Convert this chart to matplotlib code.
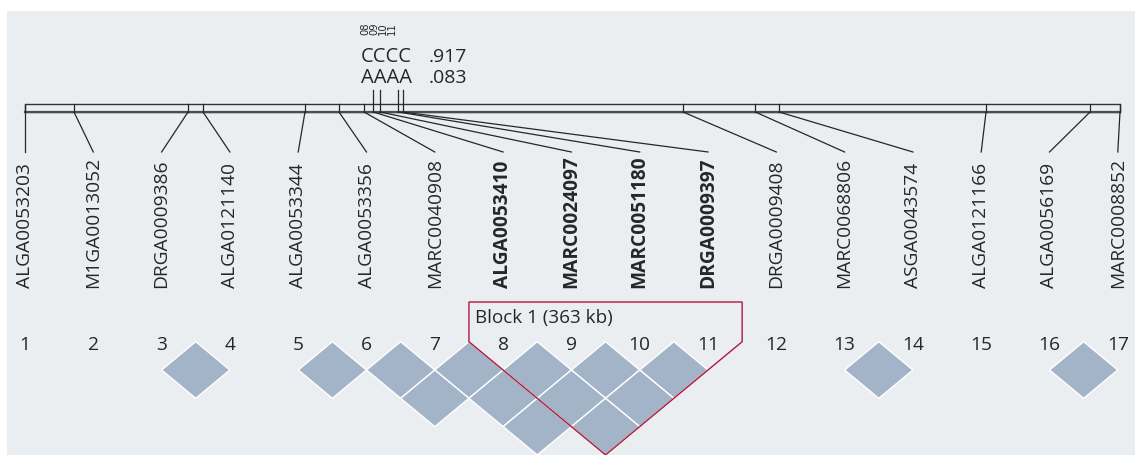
import matplotlib
matplotlib.use('Agg')
import matplotlib.pyplot as plt
from matplotlib.patches import Polygon, Rectangle

plt.rcParams['font.family'] = ['Open Sans', 'DejaVu Sans']

# markers in map order, physical position in kb from the first marker
markers = ['ALGA0053203', 'M1GA0013052', 'DRGA0009386', 'ALGA0121140',
           'ALGA0053344', 'ALGA0053356', 'MARC0040908', 'ALGA0053410',
           'MARC0024097', 'MARC0051180', 'DRGA0009397', 'DRGA0009408',
           'MARC0068806', 'ASGA0043574', 'ALGA0121166', 'ALGA0056169',
           'MARC0008852']
pos_kb = [0, 605, 2013, 2198, 3457, 3877, 4186, 4301, 4384, 4609, 4664,
          8125, 9017, 9311, 11866, 13150, 13520]

# marker pairs in strong LD (1-based)
ld_pairs = [(3, 4), (5, 6), (6, 7), (7, 8), (8, 9), (9, 10), (10, 11),
            (13, 14), (16, 17), (6, 8), (7, 9), (8, 10), (9, 11),
            (7, 10), (8, 11)]
block = (8, 11)
hap_alleles = ['CCCC', 'AAAA']
hap_freq = [0.917, 0.083]

panel = '#EBEEF1'
ink = '#262626'
ld_col = '#A3B4C8'
red = '#B0173A'

fig = plt.figure(figsize=(11.35, 4.55), dpi=100)
ax = fig.add_axes([7 / 1135, 0, 1128 / 1135, 444 / 455])
ax.set_xlim(7, 1135)
ax.set_ylim(455, 11)
ax.set_facecolor(panel)
ax.set_xticks([])
ax.set_yticks([])
for sp in ax.spines.values():
    sp.set_visible(False)

n = len(markers)
step = 68.3
xm = [25 + step * k for k in range(n)]          # evenly spaced marker slots

# physical map bar
bar_l, bar_r = 25, 1120
bar_top, bar_bot = 104, 112
span = pos_kb[-1] - pos_kb[0]
xp = [bar_l + (p - pos_kb[0]) / span * (bar_r - bar_l) for p in pos_kb]

ax.add_patch(Rectangle((bar_l, bar_top), bar_r - bar_l, bar_bot - bar_top,
                       fill=False, ec='#333333', lw=1.0))
ax.plot([bar_l, bar_r], [bar_bot, bar_bot], color='#4d4d4d', lw=1.6)

b0, b1 = block
for k in range(n):
    in_block = b0 <= k + 1 <= b1
    top = 90 if in_block else bar_top
    ax.plot([xp[k], xp[k]], [top, bar_bot], color=ink, lw=0.9)
    ax.plot([xp[k], xm[k]], [bar_bot, 152], color=ink, lw=0.9)
    ax.text(xm[k], 288, markers[k], rotation=90, ha='center', va='bottom',
            fontsize=13.8, color=ink,
            fontweight='bold' if in_block else 'normal')
    ax.text(xm[k], 350.5, str(k + 1), ha='center', va='baseline',
            fontsize=13.8, color=ink)

# LD diamonds
ld_top, hh = 341.7, 28.3
hw = step / 2
for i, j in ld_pairs:
    cx = (xm[i - 1] + xm[j - 1]) / 2
    cy = ld_top + (j - i) * hh
    ax.add_patch(Polygon([(cx, cy - hh), (cx + hw, cy), (cx, cy + hh), (cx - hw, cy)],
                         closed=True, fc=ld_col, ec='white', lw=1.0))

# block outline
left = xm[b0 - 1] - hw
right = xm[b1 - 1] + hw
bottom = ((xm[b0 - 1] + xm[b1 - 1]) / 2, ld_top + (b1 - b0 + 1) * hh)
ax.add_patch(Polygon([(left, 302), (left, ld_top), bottom, (right, ld_top), (right, 302)],
                     closed=True, fill=False, ec=red, lw=1.0, joinstyle='miter'))
ax.text(left + 6, 323, f'Block 1 ({pos_kb[b1 - 1] - pos_kb[b0 - 1]} kb)',
        va='baseline', fontsize=13.6, color=ink)

# haplotypes of the block, marker numbers stacked sideways above them
hap_ids = '\n'.join(f'{m:02d}' for m in range(b0, b1 + 1))
ax.text(378.5, 35.5, hap_ids, rotation=90, ha='center', va='bottom',
        fontsize=7.2, linespacing=0.87, color=ink, family='DejaVu Sans')
for r, (al, fr) in enumerate(zip(hap_alleles, hap_freq)):
    yb = 62 + 21 * r
    ax.text(361, yb, al, va='baseline', fontsize=14.5, color=ink)
    ax.text(429, yb, f'{fr:.3f}'[1:], va='baseline', fontsize=14, color=ink)

fig.savefig('out.png', dpi=100)
